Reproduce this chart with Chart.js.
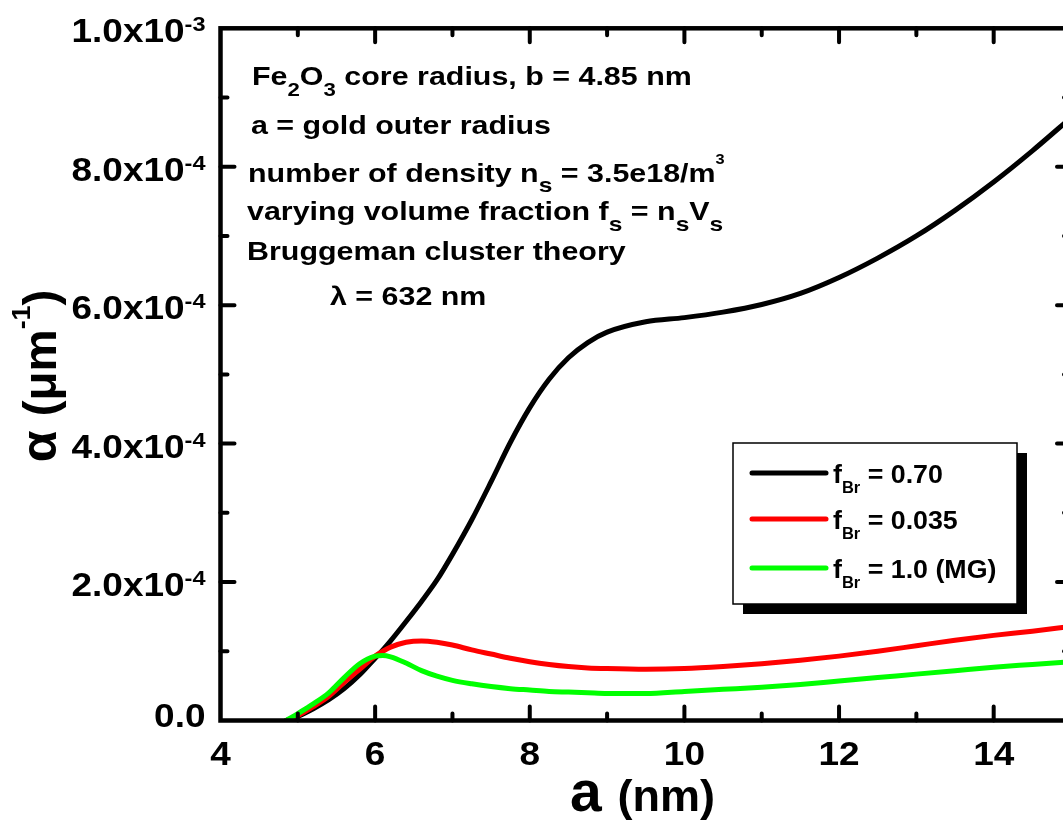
<!DOCTYPE html>
<html>
<head>
<meta charset="utf-8">
<script src="https://cdn.jsdelivr.net/npm/chart.js@4.4.1/dist/chart.umd.min.js"></script>
<style>
  html, body { margin: 0; padding: 0; background: #fff; overflow: hidden; }
  #wrap { position: relative; width: 1100px; height: 823px; }
</style>
</head>
<body>
<div id="wrap"><canvas id="chart" width="1100" height="823"></canvas></div>
<script>
// Outer gold radius a (nm)
const radius = [4.85, 5.0, 5.2, 5.4, 5.6, 5.8, 6.0, 6.1, 6.2, 6.4, 6.6, 6.8, 7.0, 7.25, 7.5, 7.75,
                8.0, 8.25, 8.5, 8.75, 9.0, 9.5, 10, 10.5, 11, 11.5, 12, 12.5, 13, 13.5, 14, 14.5, 15];

// Absorption coefficient alpha (um^-1)
const alphaBr070 = [0, 0.06e-4, 0.17e-4, 0.30e-4, 0.46e-4, 0.66e-4, 0.90e-4, 1.02e-4, 1.15e-4, 1.43e-4,
                    1.72e-4, 2.03e-4, 2.40e-4, 2.90e-4, 3.45e-4, 4.02e-4, 4.52e-4, 4.93e-4, 5.24e-4,
                    5.46e-4, 5.61e-4, 5.76e-4, 5.82e-4, 5.90e-4, 6.01e-4, 6.17e-4, 6.40e-4, 6.68e-4,
                    7.00e-4, 7.37e-4, 7.78e-4, 8.23e-4, 8.71e-4];
const alphaBr0035 = [0, 0.07e-4, 0.20e-4, 0.35e-4, 0.55e-4, 0.74e-4, 0.93e-4, 1.00e-4, 1.06e-4, 1.13e-4,
                     1.15e-4, 1.13e-4, 1.09e-4, 1.02e-4, 0.96e-4, 0.90e-4, 0.85e-4, 0.81e-4, 0.78e-4,
                     0.76e-4, 0.75e-4, 0.74e-4, 0.75e-4, 0.78e-4, 0.82e-4, 0.87e-4, 0.93e-4, 1.00e-4,
                     1.08e-4, 1.16e-4, 1.23e-4, 1.29e-4, 1.36e-4];
const alphaMG = [0, 0.10e-4, 0.24e-4, 0.40e-4, 0.62e-4, 0.82e-4, 0.93e-4, 0.94e-4, 0.92e-4, 0.83e-4,
                 0.72e-4, 0.64e-4, 0.58e-4, 0.53e-4, 0.49e-4, 0.46e-4, 0.44e-4, 0.42e-4, 0.41e-4,
                 0.40e-4, 0.39e-4, 0.39e-4, 0.42e-4, 0.45e-4, 0.48e-4, 0.52e-4, 0.57e-4, 0.62e-4,
                 0.67e-4, 0.72e-4, 0.77e-4, 0.81e-4, 0.85e-4];

// Tick labels
const xTickValues = [4, 6, 8, 10, 12, 14];
const xTickLabels = ['4', '6', '8', '10', '12', '14'];
const yTickValues = [0, 2e-4, 4e-4, 6e-4, 8e-4, 1e-3];
const yTickMantissa = ['0.0', '2.0x10', '4.0x10', '6.0x10', '8.0x10', '1.0x10'];
const yTickExponent = ['', '-4', '-4', '-4', '-4', '-3'];

// Legend entries
const seriesNames = ['0.70', '0.035', '1.0 (MG)'];
const seriesColors = ['#000000', '#ff0000', '#00ff00'];

const FONT = '"Liberation Sans", Arial, Helvetica, sans-serif';

function toPoints(ys) {
  return radius.map((a, i) => ({ x: a, y: ys[i] }));
}

// Draws a row of text pieces (normal / sub / superscript) with optional horizontal stretch
function drawRuns(ctx, runs, x, y, align, sx) {
  sx = sx || 1;
  let w = 0;
  const widths = runs.map(r => {
    ctx.font = 'bold ' + r.s + 'px ' + FONT;
    const m = ctx.measureText(r.t).width;
    w += m;
    return m;
  });
  let start = x;
  if (align === 'right') start = x - w * sx;
  else if (align === 'center') start = x - (w * sx) / 2;
  ctx.save();
  ctx.translate(start, y);
  ctx.scale(sx, 1);
  ctx.textAlign = 'left';
  ctx.textBaseline = 'alphabetic';
  let cx = 0;
  runs.forEach((r, i) => {
    ctx.font = 'bold ' + r.s + 'px ' + FONT;
    ctx.fillText(r.t, cx, r.dy || 0);
    cx += widths[i];
  });
  ctx.restore();
}

const framePlugin = {
  id: 'frame',
  afterDatasetsDraw(chart) {
    const ctx = chart.ctx;
    const xs = chart.scales.x;
    const ys = chart.scales.y;
    const L = chart.chartArea.left, R = chart.chartArea.right;
    const T = chart.chartArea.top, B = chart.chartArea.bottom;
    ctx.save();
    ctx.fillStyle = '#000';
    ctx.strokeStyle = '#000';

    // axis box
    ctx.lineWidth = 4.5;
    ctx.lineCap = 'square';
    ctx.strokeRect(L, T, R - L, B - T);

    // inward ticks on all four sides
    ctx.lineWidth = 4;
    ctx.lineCap = 'round';
    const major = 14, minor = 7;
    for (let v = xs.min + 1; v < xs.max; v += 1) {
      const px = xs.getPixelForValue(v);
      const len = Math.round(v) % 2 === 0 ? major : minor;
      ctx.beginPath();
      ctx.moveTo(px, B); ctx.lineTo(px, B - len);
      ctx.moveTo(px, T); ctx.lineTo(px, T + len);
      ctx.stroke();
    }
    for (let k = 1; k < 10; k++) {
      const py = ys.getPixelForValue(k * 1e-4);
      const len = k % 2 === 0 ? major : minor;
      ctx.beginPath();
      ctx.moveTo(L, py); ctx.lineTo(L + len, py);
      ctx.moveTo(R, py); ctx.lineTo(R - len, py);
      ctx.stroke();
    }

    // x tick labels
    xTickValues.forEach((v, i) => {
      drawRuns(ctx, [{ t: xTickLabels[i], s: 33 }], xs.getPixelForValue(v), B + 44, 'center', 1.12);
    });
    // y tick labels
    yTickValues.forEach((v, i) => {
      const py = ys.getPixelForValue(v);
      const runs = [{ t: yTickMantissa[i], s: 33 }];
      if (yTickExponent[i]) runs.push({ t: yTickExponent[i], s: 21, dy: -11 });
      const base = v === 0 ? py + 6 : py + 14;
      drawRuns(ctx, runs, L - 15, base, 'right', 1.12);
    });

    // axis titles
    drawRuns(ctx, [{ t: 'a ', s: 57 }, { t: '(nm)', s: 45 }], 570, B + 90, 'left', 1);
    ctx.save();
    ctx.translate(56, 376);
    ctx.rotate(-Math.PI / 2);
    drawRuns(ctx, [{ t: 'α ', s: 50 }, { t: '(μm', s: 46 }, { t: '-1', s: 26, dy: -26 }, { t: ')', s: 46 }],
             0, 0, 'center', 1.03);
    ctx.restore();

    // annotation block
    const sx = 1.17;
    drawRuns(ctx, [{ t: 'Fe', s: 26 }, { t: '2', s: 19, dy: 11 }, { t: 'O', s: 26 }, { t: '3', s: 19, dy: 11 },
                   { t: ' core radius, b = 4.85 nm', s: 26 }], 252, 85, 'left', sx);
    drawRuns(ctx, [{ t: 'a = gold outer radius', s: 26 }], 251, 134, 'left', sx);
    drawRuns(ctx, [{ t: 'number of density n', s: 26 }, { t: 's', s: 21, dy: 10 },
                   { t: ' = 3.5e18/m', s: 26 }, { t: '3', s: 14, dy: -18 }], 248, 182, 'left', sx);
    drawRuns(ctx, [{ t: 'varying volume fraction f', s: 26 }, { t: 's', s: 21, dy: 11 },
                   { t: ' = n', s: 26 }, { t: 's', s: 21, dy: 11 }, { t: 'V', s: 26 },
                   { t: 's', s: 21, dy: 11 }], 247, 220, 'left', sx);
    drawRuns(ctx, [{ t: 'Bruggeman cluster theory', s: 26 }], 247, 260, 'left', sx);
    drawRuns(ctx, [{ t: 'λ = 632 nm', s: 26 }], 330, 305, 'left', sx);

    // legend box with drop shadow
    const bx = 733, by = 443, bw = 284, bh = 161;
    ctx.fillStyle = '#000';
    ctx.fillRect(bx + 10, by + 10, bw, bh);
    ctx.fillStyle = '#fff';
    ctx.fillRect(bx, by, bw, bh);
    ctx.lineWidth = 1.5;
    ctx.strokeRect(bx, by, bw, bh);
    const rowY = [473, 519, 568];
    seriesNames.forEach((name, i) => {
      ctx.strokeStyle = seriesColors[i];
      ctx.lineWidth = 5;
      ctx.lineCap = 'round';
      ctx.beginPath();
      ctx.moveTo(752, rowY[i]);
      ctx.lineTo(826, rowY[i]);
      ctx.stroke();
      ctx.fillStyle = '#000';
      drawRuns(ctx, [{ t: 'f', s: 26 }, { t: 'Br', s: 16, dy: 10 }, { t: ' = ' + name, s: 26 }],
               833, rowY[i] + 10, 'left', 1.03);
    });
    ctx.restore();
  }
};

const canvasW = 1100, canvasH = 823;
const plotLeft = 220.5, plotRight = 1071, plotTop = 28.3, plotBottom = 720.5;

new Chart(document.getElementById('chart'), {
  type: 'line',
  data: {
    datasets: [
      { label: 'f_Br = 0.70', data: toPoints(alphaBr070), borderColor: seriesColors[0], order: 2 },
      { label: 'f_Br = 0.035', data: toPoints(alphaBr0035), borderColor: seriesColors[1], order: 1 },
      { label: 'f_Br = 1.0 (MG)', data: toPoints(alphaMG), borderColor: seriesColors[2], order: 0 }
    ]
  },
  options: {
    responsive: false,
    animation: false,
    elements: {
      line: { borderWidth: 5, cubicInterpolationMode: 'monotone', fill: false, borderCapStyle: 'round' },
      point: { radius: 0, hoverRadius: 0 }
    },
    layout: {
      padding: { left: plotLeft, right: canvasW - plotRight, top: plotTop, bottom: canvasH - plotBottom }
    },
    scales: {
      x: { type: 'linear', display: false, min: 4, max: 15 },
      y: { type: 'linear', display: false, min: 0, max: 1e-3 }
    },
    plugins: { legend: { display: false }, tooltip: { enabled: false } },
    events: []
  },
  plugins: [framePlugin]
});
</script>
</body>
</html>
